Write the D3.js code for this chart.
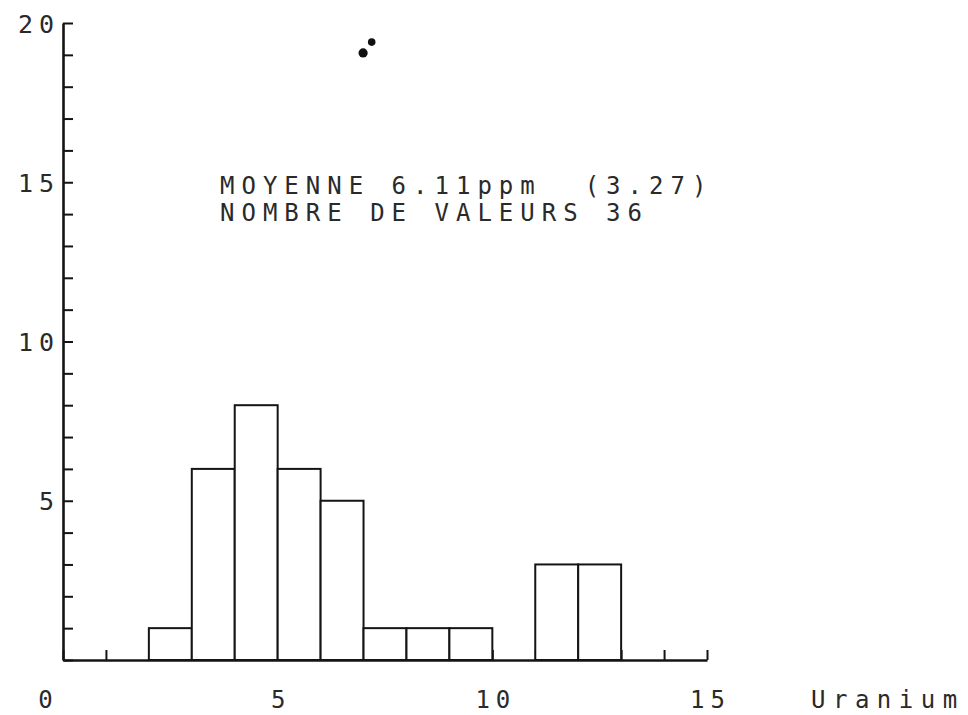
<!DOCTYPE html>
<html>
<head>
<meta charset="utf-8">
<script src="https://cdn.jsdelivr.net/npm/d3@7"></script>
<style>
  html, body { margin: 0; padding: 0; background: #fff; }
  svg { display: block; }
  text { font-family: "DejaVu Sans Mono", "Liberation Mono", monospace; fill: #2a2a2a; white-space: pre; }
</style>
</head>
<body>
<svg id="chart" width="968" height="715"></svg>
<script>
// Uranium histogram: counts per 1 ppm class
const binStarts = [2, 3, 4, 5, 6, 7, 8, 9, 10, 11, 12];
const counts    = [1, 6, 8, 6, 5, 1, 1, 1, 0, 3, 3];
const binWidth = 1;

// axis ranges and labelled ticks
const xTicks = d3.range(0, 16);
const xLabels = [0, 5, 10, 15];
const yTicks = d3.range(0, 21);
const yLabels = [5, 10, 15, 20];

// summary printed on the plot
const summaryLines = [
  "MOYENNE 6.11ppm  (3.27)",
  "NOMBRE DE VALEURS 36"
];
const axisTitle = "Uranium";

// two ink dots left by the pen (data units)
const inkDots = [[7.19, 19.4], [6.99, 19.06]];

const svg = d3.select("#chart");

const x = d3.scaleLinear().domain([0, 15]).range([63, 707]);
const y = d3.scaleLinear().domain([0, 20]).range([660, 23]);

const ink = "#141414";

// y axis: ticks pointing inward, labels every 5
const yAxis = d3.axisLeft(y)
  .tickValues(yTicks)
  .tickSizeInner(-10)
  .tickSizeOuter(0)
  .tickPadding(3)
  .tickFormat(d => yLabels.includes(d) ? String(d) : "");

const gy = svg.append("g")
  .attr("transform", `translate(${x(0)},0)`)
  .call(yAxis);
gy.select(".domain").attr("stroke", ink).attr("stroke-width", 2.6);
gy.selectAll(".tick line").attr("stroke", ink).attr("stroke-width", 2);
gy.selectAll(".tick text")
  .attr("font-size", 25)
  .attr("letter-spacing", 6)
  .attr("dy", "0.36em");

// x axis: ticks pointing up into the plot, labels every 5
const xAxis = d3.axisBottom(x)
  .tickValues(xTicks)
  .tickSizeInner(-10)
  .tickSizeOuter(0)
  .tickPadding(31)
  .tickFormat(d => xLabels.includes(d) ? String(d) : "");

const gx = svg.append("g")
  .attr("transform", `translate(0,${y(0)})`)
  .call(xAxis);
gx.select(".domain").attr("stroke", ink).attr("stroke-width", 2.6);
gx.selectAll(".tick line").attr("stroke", ink).attr("stroke-width", 2);
gx.selectAll(".tick text")
  .attr("font-size", 24)
  .attr("letter-spacing", 6)
  .attr("dx", d => d === 0 ? -15 : 3);

svg.selectAll(".tick text").attr("fill", "#2a2a2a");

// histogram bars
const bars = binStarts.map((b, i) => ({ x0: b, x1: b + binWidth, n: counts[i] }))
  .filter(d => d.n > 0);

svg.append("g")
  .selectAll("rect")
  .data(bars)
  .join("rect")
  .attr("x", d => x(d.x0))
  .attr("y", d => y(d.n))
  .attr("width", d => x(d.x1) - x(d.x0))
  .attr("height", d => y(0) - y(d.n))
  .attr("fill", "#fff")
  .attr("stroke", ink)
  .attr("stroke-width", 2);

// summary text block
svg.append("g")
  .selectAll("text")
  .data(summaryLines)
  .join("text")
  .attr("x", 220)
  .attr("y", (d, i) => 194 + i * 27)
  .attr("font-size", 24)
  .attr("letter-spacing", 7)
  .text(d => d);

// axis title
svg.append("text")
  .attr("x", 811)
  .attr("y", 708)
  .attr("font-size", 24)
  .attr("letter-spacing", 7.5)
  .text(axisTitle);

// pen dots
svg.append("g")
  .selectAll("circle")
  .data(inkDots)
  .join("circle")
  .attr("cx", d => x(d[0]))
  .attr("cy", d => y(d[1]))
  .attr("r", (d, i) => i === 0 ? 3.8 : 4.6)
  .attr("fill", "#111");
</script>
</body>
</html>
